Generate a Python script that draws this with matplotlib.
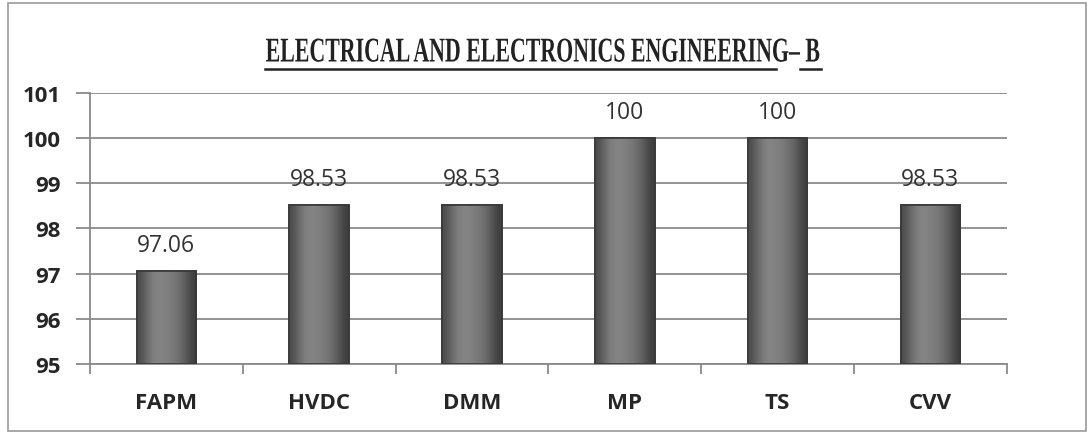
import numpy as np
import matplotlib.pyplot as plt
from matplotlib.patches import Rectangle
from matplotlib.lines import Line2D
from matplotlib.patheffects import AbstractPathEffect
from matplotlib.transforms import Affine2D

subjects = ['FAPM', 'HVDC', 'DMM', 'MP', 'TS', 'CVV']
pass_pct = [97.06, 98.53, 98.53, 100, 100, 98.53]
value_labels = ['97.06', '98.53', '98.53', '100', '100', '98.53']


class Squeeze(AbstractPathEffect):
    # narrows text horizontally around a centre x (in pixels)
    def __init__(self, sx, cx):
        super().__init__()
        self.sx = sx
        self.cx = cx

    def draw_path(self, renderer, gc, tpath, affine, rgbFace=None):
        t = affine + Affine2D().translate(-self.cx, 0).scale(self.sx, 1).translate(self.cx, 0)
        renderer.draw_path(gc, tpath, t, rgbFace)


fig = plt.figure(figsize=(10.92, 4.35), dpi=100)
ax = fig.add_axes([0.0824, 0.161, 0.8396, 0.623])

x = range(len(subjects))
bars = ax.bar(x, [v - 95 for v in pass_pct], bottom=95, width=0.39,
              color='#666666', edgecolor='#3a3a3a', linewidth=1.2, zorder=3)

# horizontal shading across each bar
shade = np.array([[0.30, 0.42, 0.50, 0.52, 0.50, 0.47, 0.42, 0.34, 0.24]])
for b in bars:
    img = ax.imshow(shade, cmap='gray', vmin=0, vmax=1, aspect='auto',
                    extent=(b.get_x(), b.get_x() + b.get_width(), 95, 95 + b.get_height()),
                    interpolation='bicubic', zorder=3.2)
    img.set_clip_path(b)
    ax.add_patch(Rectangle((b.get_x(), 95), b.get_width(), b.get_height(),
                           fill=False, edgecolor='#383838', linewidth=1.2, zorder=3.4))

for i, v in enumerate(pass_pct):
    ax.annotate(value_labels[i], (i, v), xytext=(0, 10), textcoords='offset points',
                ha='center', va='bottom', fontsize=16.5, family='Open Sans',
                color='#333333', zorder=4)

ax.set_xlim(-0.5, len(subjects) - 0.5)
ax.set_ylim(95, 101)
ax.set_yticks(range(95, 102))
ax.yaxis.grid(True, color='#8a8a8a', linewidth=1.3, zorder=0)
ax.set_axisbelow(True)

ax.set_xticks([i + 0.5 for i in range(-1, len(subjects))])
ax.set_xticklabels([])
ax.set_xticks(list(x), minor=True)
ax.set_xticklabels(subjects, minor=True, fontsize=16, fontweight='bold',
                   family='Open Sans', color='#262626')
ax.tick_params(axis='x', which='minor', length=0, pad=20)
ax.tick_params(axis='x', which='major', length=7, color='#8a8a8a', width=1.3)
ax.tick_params(axis='y', length=10, color='#8a8a8a', width=1.3, pad=11,
               labelsize=16, labelcolor='#262626')
for lab in ax.get_yticklabels():
    lab.set_fontweight('bold')
    lab.set_family('Open Sans')

for s in ['top', 'right']:
    ax.spines[s].set_visible(False)
for s in ['left', 'bottom']:
    ax.spines[s].set_color('#8a8a8a')
    ax.spines[s].set_linewidth(1.3)

# title (condensed serif) with underline
title_cx = 543
fig.text(title_cx / 1092, 1 - 62.5 / 435, 'ELECTRICAL AND ELECTRONICS ENGINEERING\u2013 B',
         ha='center', va='baseline', fontsize=25, fontweight='bold',
         family='Liberation Serif', color='#222222',
         path_effects=[Squeeze(0.63, title_cx)])
fig.add_artist(Line2D([265 / 1092, 776 / 1092], [1 - 70 / 435] * 2, color='#222222', lw=1.8))
fig.add_artist(Line2D([800 / 1092, 821 / 1092], [1 - 70 / 435] * 2, color='#222222', lw=1.8))

# chart frame
fig.add_artist(Rectangle((8 / 1092, 3 / 435), 1078 / 1092, 428 / 435, fill=False,
                         edgecolor='#9a9a9a', linewidth=1.2, transform=fig.transFigure))

fig.savefig('out.png', dpi=100)
